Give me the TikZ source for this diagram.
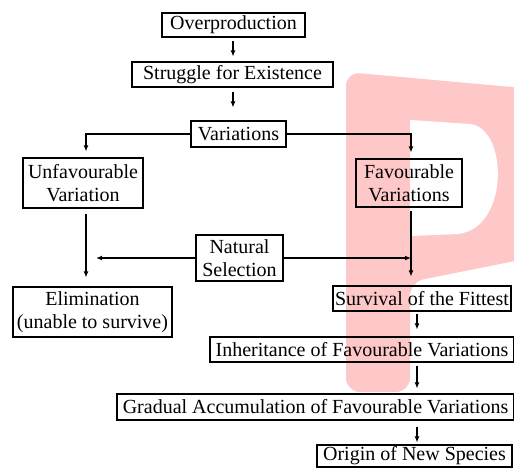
\documentclass[tikz,border=0pt]{standalone}
\usepackage{fontspec}
\setmainfont{LiberationSerif}[Extension=.ttf,UprightFont=*-Regular,BoldFont=*-Bold,ItalicFont=*-Italic]
\usetikzlibrary{arrows.meta}
\definecolor{wm}{RGB}{255,200,200}
\begin{document}
\begin{tikzpicture}[x=1pt,y=-1pt,
  box/.style={draw,line width=1.1pt,inner sep=0pt,align=center,
    font=\fontsize{20}{23}\selectfont},
  conn/.style={line width=1.6pt,-{Latex[length=6pt,width=5pt]}}]
\useasboundingbox (0,0) rectangle (514,468);
% watermark
\begin{scope}
\clip (0,0) rectangle (514,468);
\fill[wm,rounded corners=14pt] (346,392) -- (346,72) -- (545,90) -- (545,255) -- (410,282) -- (410,392) -- cycle;
\fill[white] (410,120) -- (470,124) .. controls (508,128) and (510,228) .. (458,234) -- (410,236) -- cycle;
\end{scope}
% nodes
\node[box,minimum width=143,minimum height=24] (over) at (233.5,25) {Overproduction};
\node[box,minimum width=201,minimum height=25] (strug) at (232.5,74.5) {Struggle for Existence};
\node[box,minimum width=95,minimum height=26] (var) at (238.5,134) {Variations};
\node[box,minimum width=120,minimum height=50] (unfav) at (83,183) {Unfavourable\\Variation};
\node[box,minimum width=106,minimum height=48] (fav) at (409,183) {Favourable\\Variations};
\node[box,minimum width=87,minimum height=46] (ns) at (239.5,258) {Natural\\Selection};
\node[box,minimum width=159,minimum height=50] (elim) at (92.5,312) {Elimination\\(unable to survive)};
\node[box,minimum width=178,minimum height=25] (surv) at (422,298.5) {Survival of the Fittest};
\node[box,minimum width=304,minimum height=25] (inh) at (362,349.5) {Inheritance of Favourable Variations};
\node[box,minimum width=397,minimum height=26] (grad) at (315.5,407) {Gradual Accumulation of Favourable Variations};
\node[box,minimum width=195,minimum height=22] (orig) at (414.5,456) {Origin of New Species};
\coordinate (ua) at (86,0);
\coordinate (fa) at (411,0);
\coordinate (ax) at (417,0);
% connectors
\draw[conn,shorten <=3pt,shorten >=5pt] (over.south -| 233,0) -- (strug.north -| 233,0);
\draw[conn,shorten <=4pt,shorten >=13pt] (strug.south -| 233,0) -- (var.north -| 233,0);
\draw[conn,shorten >=6pt] (var.west) -| (unfav.north -| ua);
\draw[conn,shorten >=6pt] (var.east) -| (fav.north -| fa);
\draw[conn,shorten <=5pt,shorten >=9pt] (unfav.south -| ua) -- (elim.north -| ua);
\draw[conn,shorten <=3pt,shorten >=9pt] (fav.south -| fa) -- (surv.north -| fa);
\draw[conn,shorten >=10pt] (ns.west) -- (ns.west -| ua);
\draw[conn] (ns.east) -- (ns.east -| fa);
\draw[conn,shorten <=2pt,shorten >=7pt] (surv.south -| ax) -- (inh.north -| ax);
\draw[conn,shorten <=3pt,shorten >=5pt] (inh.south -| ax) -- (grad.north -| ax);
\draw[conn,shorten <=6pt,shorten >=2pt] (grad.south -| ax) -- (orig.north -| ax);
\end{tikzpicture}
\end{document}
